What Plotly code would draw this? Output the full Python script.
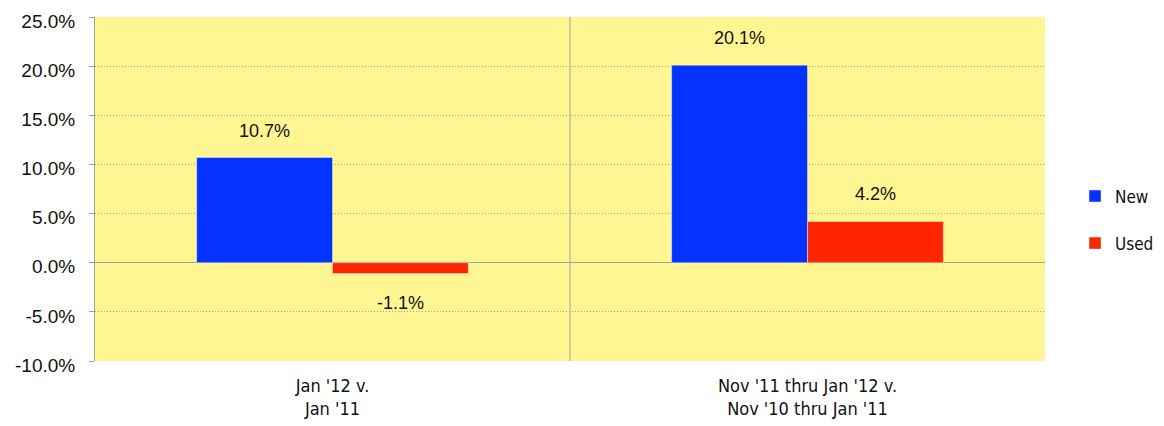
import plotly.graph_objects as go

categories = ["Jan '12 v.<br>Jan '11", "Nov '11 thru Jan '12 v.<br>Nov '10 thru Jan '11"]
new_vals = [10.7, 20.1]
used_vals = [-1.1, 4.2]
y_ticks = [-10, -5, 0, 5, 10, 15, 20, 25]
y_tick_text = [f"{v:.1f}%" for v in y_ticks]

FONT = "Liberation Sans Narrow, DejaVu Sans Condensed, Arial Narrow, sans-serif"
BW = 0.286
xs = list(range(len(categories)))

fig = go.Figure()
fig.add_trace(go.Bar(x=xs, y=new_vals, name="New", marker_color="#0433FF",
                     width=BW, offset=-BW, legendgroup="a"))
fig.add_trace(go.Bar(x=xs, y=used_vals, name="Used", marker_color="#FF2600",
                     width=BW, offset=0, legendgroup="b"))

for i in xs:
    for vals, off in ((new_vals, -BW / 2), (used_vals, BW / 2)):
        v = vals[i]
        fig.add_annotation(x=i + off, y=v, xref="x", yref="y", text=f"{v:.1f}%",
                           showarrow=False, yshift=27 if v >= 0 else -29,
                           font=dict(size=18, color="#111", family="Liberation Sans, Arial, sans-serif"))

fig.add_shape(type="line", xref="x", yref="y", x0=0.5, x1=0.5, y0=-10, y1=25,
              line=dict(color="#A0A0A0", width=1))

fig.update_layout(
    width=1164, height=426,
    margin=dict(l=95, r=119, t=17, b=65, autoexpand=False),
    paper_bgcolor="white", plot_bgcolor="#FFF692",
    barmode="overlay",
    showlegend=True,
    legend=dict(x=1.0316, y=0.41, xanchor="left", yanchor="middle",
                font=dict(size=17, family=FONT, color="#111"),
                tracegroupgap=22, itemwidth=30, bgcolor="rgba(0,0,0,0)"),
    xaxis=dict(range=[-0.5, 1.5], tickmode="array", tickvals=xs, ticktext=categories,
               showgrid=False, zeroline=False, showline=False, ticks="",
               ticklabelstandoff=12,
               tickfont=dict(size=18, family=FONT, color="#111")),
    yaxis=dict(range=[-10, 25], tickmode="array", tickvals=y_ticks, ticktext=y_tick_text,
               showgrid=True, gridcolor="#A0A0A0", griddash="1px,2px", gridwidth=1,
               zeroline=True, zerolinecolor="#A0A0A0", zerolinewidth=1,
               showline=True, linecolor="#A0A0A0", linewidth=1,
               ticks="outside", ticklen=5, tickcolor="#A0A0A0",
               ticklabelstandoff=10, ticklabelshift=4,
               tickfont=dict(size=19, family="Liberation Sans, Arial, sans-serif", color="#111")),
)

fig.write_html("out.html")
